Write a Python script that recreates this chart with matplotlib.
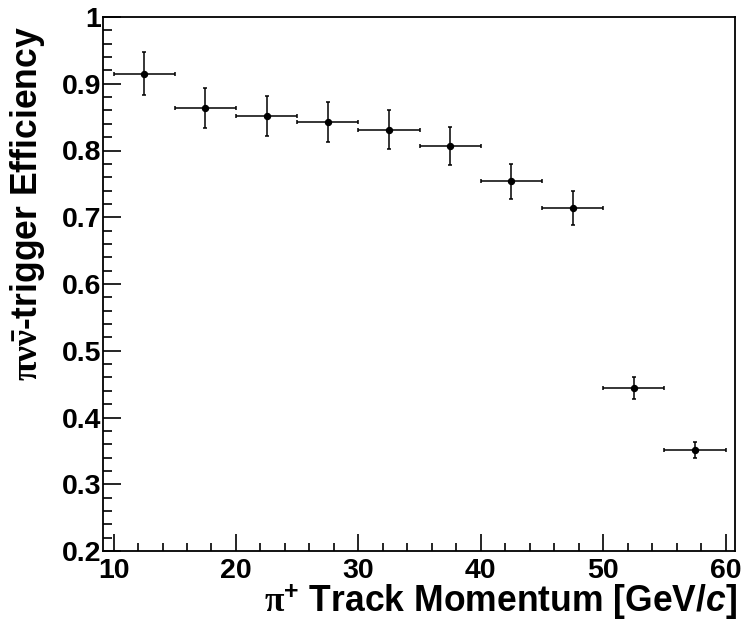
import matplotlib
matplotlib.use("Agg")
import matplotlib.pyplot as plt
from matplotlib.ticker import MultipleLocator

plt.rcParams['font.family'] = ['Liberation Sans', 'DejaVu Sans']
plt.rcParams['font.weight'] = 'bold'
plt.rcParams['mathtext.fontset'] = 'custom'
plt.rcParams['mathtext.rm'] = 'Liberation Serif'
plt.rcParams['mathtext.it'] = 'Liberation Serif:italic'
plt.rcParams['mathtext.bf'] = 'Liberation Sans:bold'
plt.rcParams['mathtext.bfit'] = 'Liberation Sans:bold:italic'

# Data
momentum = [12.5, 17.5, 22.5, 27.5, 32.5, 37.5, 42.5, 47.5, 52.5, 57.5]
bin_half_width = [2.5, 2.5, 2.5, 2.5, 2.5, 2.5, 2.5, 2.5, 2.5, 2.5]
efficiency = [0.915, 0.863, 0.852, 0.842, 0.831, 0.807, 0.754, 0.714, 0.444, 0.352]
eff_err = [0.032, 0.030, 0.030, 0.030, 0.029, 0.028, 0.026, 0.025, 0.016, 0.012]

xticks = [10, 20, 30, 40, 50, 60]
yticks = [0.2, 0.3, 0.4, 0.5, 0.6, 0.7, 0.8, 0.9, 1.0]
yticklabels = ['0.2', '0.3', '0.4', '0.5', '0.6', '0.7', '0.8', '0.9', '1']

fig = plt.figure(figsize=(7.42, 6.3), dpi=100)
ax = fig.add_axes([103.5/742, 1 - 551/630, (735 - 103.5)/742, (551 - 17)/630])

ax.errorbar(momentum, efficiency, xerr=bin_half_width, yerr=eff_err,
            fmt='o', color='black', ms=4.3, elinewidth=1.1, capsize=1.6,
            capthick=1.1)

ax.set_xlim(9.18, 60.76)
ax.set_ylim(0.2, 1.0)
ax.set_xticks(xticks)
ax.set_xticklabels([str(t) for t in xticks])
ax.set_yticks(yticks)
ax.set_yticklabels(yticklabels)
ax.xaxis.set_minor_locator(MultipleLocator(2))
ax.yaxis.set_minor_locator(MultipleLocator(0.02))
ax.tick_params(which='both', direction='in', top=False, right=False, width=1.2)
ax.tick_params(which='major', axis='x', length=12, pad=5, labelsize=20.5)
ax.tick_params(which='minor', axis='x', length=6)
ax.tick_params(which='major', axis='y', length=13, pad=1.5, labelsize=20.5)
ax.tick_params(which='minor', axis='y', length=6.5)
for lab in ax.get_xticklabels() + ax.get_yticklabels():
    lab.set_fontweight('bold')
for sp in ax.spines.values():
    sp.set_linewidth(1.3)

fig.text(737/742, 1 - 612/630,
         r"$\mathrm{\pi}^{\mathbf{+}}$ Track Momentum [GeV/$\mathbfit{c}$]",
         ha='right', va='baseline', fontsize=25.6, fontweight='bold')
fig.text(28/742, 1 - 26/630,
         r"$\mathrm{\pi\nu\bar{\nu}}$-trigger Efficiency",
         ha='center', va='top', rotation=90, fontsize=25.6, fontweight='bold',
         rotation_mode='default')

fig.savefig('out.png', dpi=100)
